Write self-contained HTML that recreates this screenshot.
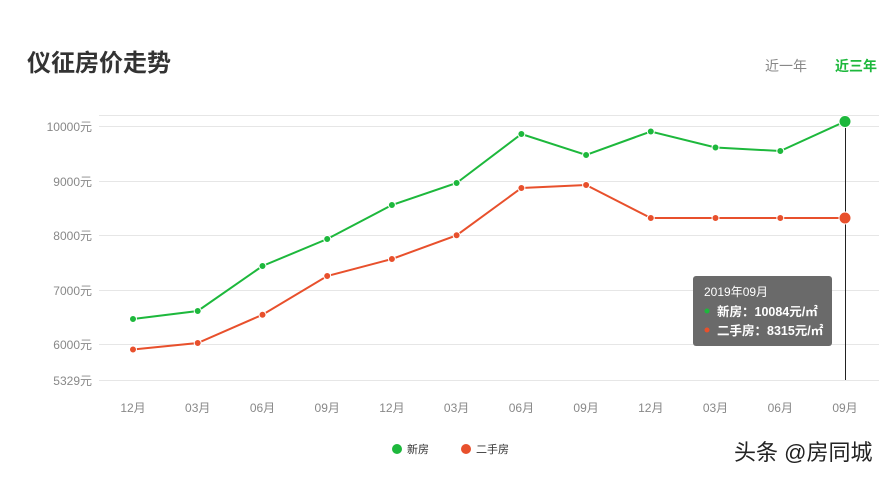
<!DOCTYPE html>
<html><head><meta charset="utf-8">
<style>
html,body{margin:0;padding:0;background:#fff;}
body{width:888px;height:477px;overflow:hidden;position:relative;font-family:"Liberation Sans","Noto Sans CJK SC",sans-serif;}
svg{position:absolute;left:0;top:0;}
</style></head><body>
<svg width="888" height="477" viewBox="0 0 888 477" xmlns="http://www.w3.org/2000/svg" font-family="Liberation Sans, Noto Sans CJK SC, sans-serif">
<text x="27" y="71" font-size="24" font-weight="bold" fill="#333">仪征房价走势</text>
<text x="765" y="71" font-size="14" fill="#888">近一年</text>
<text x="835" y="71" font-size="14" font-weight="bold" fill="#1db83c">近三年</text>
<g stroke="#e6e6e6" stroke-width="1">
<line x1="99" y1="115.5" x2="879" y2="115.5"/>
<line x1="99" y1="126.5" x2="879" y2="126.5"/>
<line x1="99" y1="181.5" x2="879" y2="181.5"/>
<line x1="99" y1="235.5" x2="879" y2="235.5"/>
<line x1="99" y1="290.5" x2="879" y2="290.5"/>
<line x1="99" y1="344.5" x2="879" y2="344.5"/>
<line x1="99" y1="380.5" x2="879" y2="380.5"/>
</g>
<g font-size="12" fill="#888" text-anchor="end">
<text x="92" y="131">10000元</text>
<text x="92" y="186">9000元</text>
<text x="92" y="240">8000元</text>
<text x="92" y="295">7000元</text>
<text x="92" y="349">6000元</text>
<text x="92" y="385">5329元</text>
</g>
<g font-size="12" fill="#888" text-anchor="middle">
<text x="133" y="412">12月</text>
<text x="197.7" y="412">03月</text>
<text x="262.5" y="412">06月</text>
<text x="327.2" y="412">09月</text>
<text x="391.9" y="412">12月</text>
<text x="456.6" y="412">03月</text>
<text x="521.4" y="412">06月</text>
<text x="586.1" y="412">09月</text>
<text x="650.8" y="412">12月</text>
<text x="715.5" y="412">03月</text>
<text x="780.3" y="412">06月</text>
<text x="845" y="412">09月</text>
</g>
<line x1="845.5" y1="121" x2="845.5" y2="380" stroke="#222" stroke-width="1"/>
<polyline fill="none" stroke="#1db83c" stroke-width="2" points="133,319 197.7,311 262.5,266 327.2,239 391.9,205 456.6,183 521.4,134 586.1,155 650.8,131.5 715.5,147.5 780.3,151 845,121.5"/>
<polyline fill="none" stroke="#e8502c" stroke-width="2" points="133,349.5 197.7,343 262.5,314.7 327.2,276 391.9,259 456.6,235.3 521.4,188 586.1,185 650.8,218 715.5,218 780.3,218 845,218"/>
<g fill="#1db83c" stroke="#fff" stroke-width="1">
<circle cx="133" cy="319" r="3.5"/><circle cx="197.7" cy="311" r="3.5"/><circle cx="262.5" cy="266" r="3.5"/><circle cx="327.2" cy="239" r="3.5"/><circle cx="391.9" cy="205" r="3.5"/><circle cx="456.6" cy="183" r="3.5"/><circle cx="521.4" cy="134" r="3.5"/><circle cx="586.1" cy="155" r="3.5"/><circle cx="650.8" cy="131.5" r="3.5"/><circle cx="715.5" cy="147.5" r="3.5"/><circle cx="780.3" cy="151" r="3.5"/><circle cx="845" cy="121.5" r="6"/>
</g>
<g fill="#e8502c" stroke="#fff" stroke-width="1">
<circle cx="133" cy="349.5" r="3.5"/><circle cx="197.7" cy="343" r="3.5"/><circle cx="262.5" cy="314.7" r="3.5"/><circle cx="327.2" cy="276" r="3.5"/><circle cx="391.9" cy="259" r="3.5"/><circle cx="456.6" cy="235.3" r="3.5"/><circle cx="521.4" cy="188" r="3.5"/><circle cx="586.1" cy="185" r="3.5"/><circle cx="650.8" cy="218" r="3.5"/><circle cx="715.5" cy="218" r="3.5"/><circle cx="780.3" cy="218" r="3.5"/><circle cx="845" cy="218" r="6"/>
</g>
<rect x="693" y="276" width="139" height="70" rx="3" fill="#6a6a6a"/>
<text x="704" y="296" font-size="12" fill="#fff">2019年09月</text>
<circle cx="707" cy="311" r="2.5" fill="#1db83c"/>
<text x="717" y="316" font-size="12.5" font-weight="bold" fill="#fff">新房：10084元/㎡</text>
<circle cx="707" cy="330" r="2.5" fill="#e8502c"/>
<text x="717" y="335" font-size="12.5" font-weight="bold" fill="#fff">二手房：8315元/㎡</text>
<circle cx="397" cy="449" r="5" fill="#1db83c"/>
<text x="407" y="453" font-size="11" fill="#333">新房</text>
<circle cx="466" cy="449" r="5" fill="#e8502c"/>
<text x="476" y="453" font-size="11" fill="#333">二手房</text>
<text x="734" y="460" font-size="22" fill="#222">头条 @房同城</text>
</svg>
</body></html>
